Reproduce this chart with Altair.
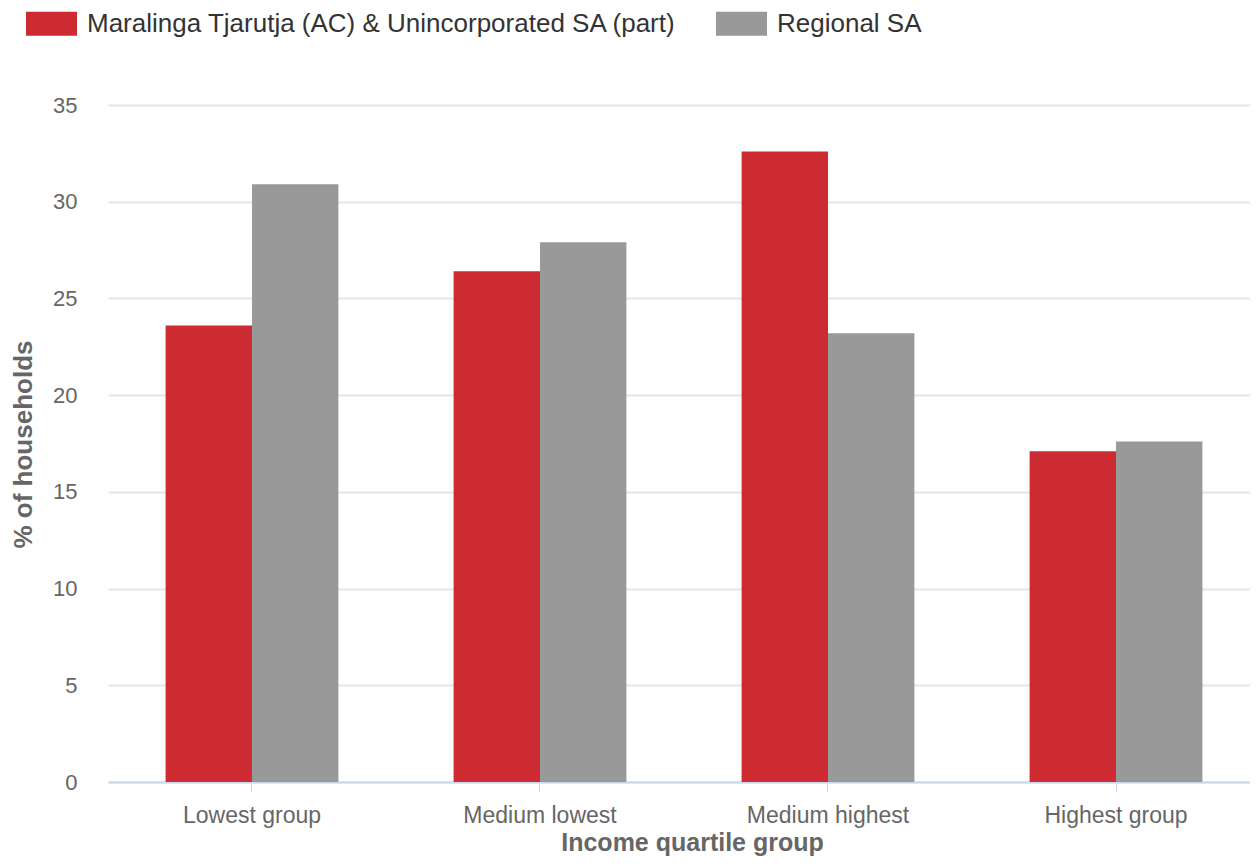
import altair as alt
import pandas as pd

categories = ["Lowest group", "Medium lowest", "Medium highest", "Highest group"]
series_names = ["Maralinga Tjarutja (AC) & Unincorporated SA (part)", "Regional SA"]
maralinga = [23.6, 26.4, 32.6, 17.1]
regional = [30.9, 27.9, 23.2, 17.6]
y_ticks = [0, 5, 10, 15, 20, 25, 30, 35]
colors = ["#cc2c31", "#999999"]

rows = []
for c, v in zip(categories, maralinga):
    rows.append({"group": c, "series": series_names[0], "value": v})
for c, v in zip(categories, regional):
    rows.append({"group": c, "series": series_names[1], "value": v})
df = pd.DataFrame(rows)

FONT = "Liberation Sans"

chart = alt.Chart(df).mark_bar().encode(
    x=alt.X("group:N", sort=categories,
            scale=alt.Scale(paddingInner=0.4, paddingOuter=0.1826, align=0.5475),
            axis=alt.Axis(title="Income quartile group", labelAngle=0,
                          labelFont=FONT, labelFontSize=23, labelColor="#666666",
                          labelPadding=30, labelBaseline="alphabetic",
                          titleFont=FONT, titleFontSize=25, titleFontWeight="bold",
                          titleColor="#666666", titleX=584, titleY=68,
                          titleBaseline="alphabetic",
                          domainColor="#ccd6eb", domainWidth=2,
                          tickColor="#ccd6eb", tickSize=10, tickWidth=1,
                          grid=False)),
    xOffset=alt.XOffset("series:N", sort=series_names),
    y=alt.Y("value:Q", scale=alt.Scale(domain=[0, 35], nice=False),
            axis=alt.Axis(title="% of households", values=y_ticks,
                          labelFont=FONT, labelFontSize=22, labelColor="#666666",
                          labelPadding=31, domain=False, ticks=False,
                          titleFont=FONT, titleFontSize=26, titleFontWeight="bold",
                          titleColor="#666666", titleX=-85, titleY=339,
                          titleBaseline="middle",
                          gridColor="#e6e6e6", gridWidth=2)),
    color=alt.Color("series:N", sort=series_names,
                    scale=alt.Scale(domain=series_names, range=colors),
                    legend=alt.Legend(title=None, orient="none", direction="horizontal",
                                      legendX=-82, legendY=-107,
                                      symbolType="M-1,-0.47H1V0.47H-1Z",
                                      symbolSize=2601, symbolStrokeWidth=0,
                                      symbolOpacity=1,
                                      labelFont=FONT, labelFontSize=26,
                                      labelColor="#333333", labelOffset=10,
                                      labelLimit=900,
                                      columnPadding=39, padding=0)),
).properties(
    width=1142, height=677,
    autosize=alt.AutoSizeParams(type="none"),
    padding={"left": 100, "top": 97, "right": 0, "bottom": 74},
).configure_view(stroke=None).configure_bar(binSpacing=0)

chart.save("out.html", embed_options={"renderer": "svg", "actions": False})
